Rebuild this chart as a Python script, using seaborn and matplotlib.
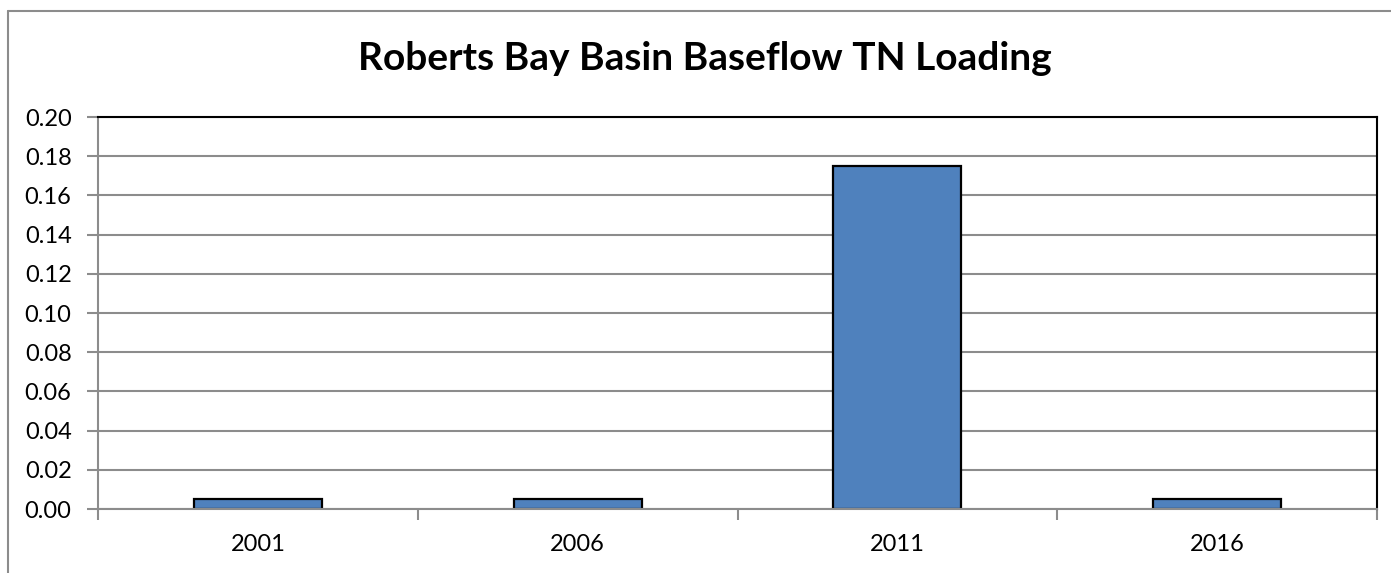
import matplotlib
matplotlib.use("Agg")
import matplotlib.pyplot as plt
from matplotlib.lines import Line2D
import seaborn as sns
import pandas as pd

years = ["2001", "2006", "2011", "2016"]
tn_loading = [0.005, 0.005, 0.175, 0.005]
y_ticks = [0.00, 0.02, 0.04, 0.06, 0.08, 0.10, 0.12, 0.14, 0.16, 0.18, 0.20]
title = "Roberts Bay Basin Baseflow TN Loading"

sns.set_theme(style="white")
plt.rcParams['font.family'] = ['Lato', 'DejaVu Sans']

W, H = 1391, 573
fig = plt.figure(figsize=(W / 100, H / 100), dpi=100)
ax = fig.add_axes([98 / W, 1 - 509 / H, (1377 - 98) / W, (509 - 117) / H])

df = pd.DataFrame({"year": years, "value": tn_loading})
sns.barplot(data=df, x="year", y="value", ax=ax, color="#4F81BD",
            edgecolor="black", linewidth=1.6, width=0.4, saturation=1)

grid_c = "#8C8C8C"
ax.set_ylim(0, 0.20)
ax.set_xlim(-0.5, len(years) - 0.5)
ax.set_yticks(y_ticks)
ax.set_yticklabels([f"{v:.2f}" for v in y_ticks])
ax.yaxis.grid(True, color=grid_c, linewidth=1.5)
ax.set_axisbelow(True)
ax.set_xlabel("")
ax.set_ylabel("")

ax.tick_params(axis="y", which="major", length=8, width=1.5, color=grid_c,
               direction="out", left=True, labelsize=17, pad=11, labelcolor="black")
ax.set_xticks([i - 0.5 for i in range(len(years) + 1)], minor=True)
ax.tick_params(axis="x", which="minor", length=8, width=1.5, color=grid_c,
               direction="out", bottom=True)
ax.tick_params(axis="x", which="major", length=0, labelsize=17, pad=18, labelcolor="black")

for side in ["left", "bottom"]:
    ax.spines[side].set_color(grid_c)
    ax.spines[side].set_linewidth(1.5)
for side in ["top", "right"]:
    ax.spines[side].set_color("black")
    ax.spines[side].set_linewidth(1.5)
    ax.spines[side].set_visible(True)

fig.text(705 / W, 1 - 70 / H, title, ha="center", va="baseline",
         fontsize=28, fontweight="bold", color="black")

# outer chart border (top and left visible)
bx, by = 8 / W, 1 - 11 / H
fig.add_artist(Line2D([bx, 1.0], [by, by], transform=fig.transFigure, color="#8C8C8C", linewidth=1.5))
fig.add_artist(Line2D([bx, bx], [0, by], transform=fig.transFigure, color="#8C8C8C", linewidth=1.5))

fig.savefig("out.png", dpi=100)
